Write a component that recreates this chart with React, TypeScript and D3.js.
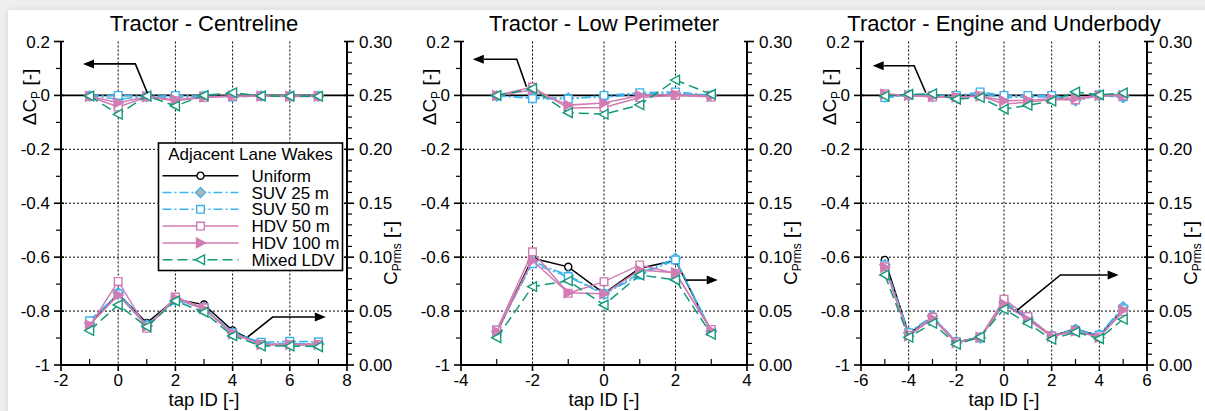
import React from "react";
import * as d3 from "d3";

// ---------- data ----------
const seriesNames = ["Uniform", "SUV 25 m", "SUV 50 m", "HDV 50 m", "HDV 100 m", "Mixed LDV"];
const legendTitle = "Adjacent Lane Wakes";
const panelTitles = ["Tractor - Centreline", "Tractor - Low Perimeter", "Tractor - Engine and Underbody"];

const centrelineTaps = [-1, 0, 1, 2, 3, 4, 5, 6, 7];
const centrelineXTicks = [-2, 0, 2, 4, 6, 8];
// Cprms rows: Uniform, SUV25, SUV50, HDV50, HDV100, Mixed
const centrelineCprms = [
  [0.038, 0.066, 0.039, 0.061, 0.056, 0.032, 0.019, 0.019, 0.019],
  [0.039, 0.067, 0.037, 0.060, 0.053, 0.030, 0.020, 0.020, 0.020],
  [0.041, 0.066, 0.037, 0.060, 0.053, 0.030, 0.021, 0.022, 0.0215],
  [0.036, 0.0775, 0.034, 0.063, 0.053, 0.029, 0.019, 0.019, 0.019],
  [0.037, 0.065, 0.036, 0.062, 0.052, 0.029, 0.019, 0.019, 0.019],
  [0.032, 0.0557, 0.0355, 0.0594, 0.049, 0.027, 0.0176, 0.0176, 0.017],
];
// dCp rows: SUV25, SUV50, HDV50, HDV100, Mixed (Uniform is the reference)
const centrelineDcp = [
  [-0.002, -0.014, -0.004, -0.008, -0.004, -0.004, -0.002, -0.003, -0.003],
  [-0.001, 0.0, -0.003, 0.0, -0.002, -0.006, -0.002, -0.002, -0.002],
  [-0.004, -0.043, -0.006, -0.02, -0.008, -0.003, -0.003, -0.004, -0.004],
  [-0.003, -0.027, -0.005, -0.016, -0.006, -0.002, -0.002, -0.003, -0.003],
  [-0.002, -0.07, -0.002, -0.039, 0.0, 0.01, -0.002, -0.003, -0.003],
];

const perimeterTaps = [-3, -2, -1, 0, 1, 2, 3];
const perimeterXTicks = [-4, -2, 0, 2, 4];
const perimeterCprms = [
  [0.030, 0.099, 0.091, 0.0665, 0.0897, 0.097, 0.031],
  [0.031, 0.096, 0.083, 0.066, 0.085, 0.099, 0.031],
  [0.0325, 0.094, 0.082, 0.0656, 0.0835, 0.0974, 0.031],
  [0.0325, 0.105, 0.0665, 0.0773, 0.0928, 0.085, 0.033],
  [0.031, 0.0968, 0.067, 0.066, 0.088, 0.0856, 0.032],
  [0.0253, 0.0727, 0.078, 0.0557, 0.0835, 0.0789, 0.0285],
];
const perimeterDcp = [
  [-0.002, -0.008, -0.01, -0.007, 0.005, 0.008, -0.002],
  [-0.001, -0.012, -0.014, 0.0, 0.01, 0.013, 0.001],
  [0.0, 0.031, -0.047, -0.045, -0.008, 0.001, -0.006],
  [0.0, 0.02, -0.036, -0.028, 0.0, 0.003, -0.003],
  [0.0, 0.025, -0.064, -0.07, -0.035, 0.057, 0.004],
];

const engineTaps = [-5, -4, -3, -2, -1, 0, 1, 2, 3, 4, 5];
const engineXTicks = [-6, -4, -2, 0, 2, 4, 6];
const engineCprms = [
  [0.0974, 0.029, 0.044, 0.021, 0.026, 0.0566, 0.043, 0.027, 0.0334, 0.027, 0.052],
  [0.093, 0.030, 0.0455, 0.0216, 0.025, 0.058, 0.044, 0.027, 0.033, 0.028, 0.0541],
  [0.0928, 0.030, 0.044, 0.0216, 0.025, 0.0587, 0.0445, 0.027, 0.032, 0.0278, 0.052],
  [0.091, 0.0275, 0.0442, 0.021, 0.0257, 0.061, 0.0448, 0.0269, 0.0315, 0.026, 0.0494],
  [0.0906, 0.0269, 0.043, 0.0205, 0.0257, 0.0565, 0.042, 0.0265, 0.0315, 0.0255, 0.051],
  [0.0835, 0.0257, 0.0387, 0.0192, 0.026, 0.0517, 0.0387, 0.0238, 0.0306, 0.0244, 0.0424],
];
const engineDcp = [
  [-0.006, 0.0, -0.004, -0.004, 0.006, -0.008, -0.006, -0.006, -0.02, 0.0, -0.008],
  [-0.008, 0.001, -0.002, 0.0, 0.013, 0.0, 0.0, 0.0, -0.012, 0.002, -0.005],
  [0.006, 0.0, -0.006, -0.008, -0.002, -0.032, -0.025, -0.015, -0.017, 0.0, -0.001],
  [0.004, 0.0, -0.004, -0.006, -0.002, -0.02, -0.018, -0.012, -0.01, 0.0, 0.0],
  [-0.002, 0.004, 0.006, -0.014, -0.008, -0.051, -0.037, -0.021, 0.013, 0.002, 0.009],
];

// annotation arrows in data units (tap, dCp); last point is the arrow tip
const centrelineArrows = [
  [[1.02, 0.009], [0.6, 0.117], [-1.23, 0.117]],
  [[4.53, -0.896], [5.4, -0.822], [7.26, -0.822]],
];
const perimeterArrows = [
  [[-2.17, 0.032], [-2.44, 0.134], [-3.67, 0.134]],
  [[2.29, -0.685], [3.18, -0.685]],
];
const engineArrows = [
  [[-3.28, 0.01], [-3.77, 0.11], [-5.51, 0.11]],
  [[0.556, -0.796], [2.37, -0.666], [4.81, -0.666]],
];

const leftTicks = [0.2, 0, -0.2, -0.4, -0.6, -0.8, -1];
const rightTicks = [0.3, 0.25, 0.2, 0.15, 0.1, 0.05, 0];

// ---------- styles ----------
const BLUE = "#3cb3ea";
const PINK = "#d17cb2";
const TEAL = "#12997a";
const seriesColors = ["#000000", BLUE, BLUE, PINK, PINK, TEAL];
const seriesDash = ["", "9,3,2,3", "9,3,2,3", "", "", "10,5"];
const seriesMarker = ["circle", "diamond", "square", "square", "triR", "triL"];
const seriesFill = ["#ffffff", "#b4b4b4", "#ffffff", "#ffffff", PINK, "#ffffff"];

const FONT = "'Liberation Sans', Arial, Helvetica, sans-serif";
const Y_TOP = 41.5;
const Y_BOT = 365;
const PANEL_W = 286;
const TICK_FS = 17;

function markerPath(type: string) {
  switch (type) {
    case "circle":
      return d3.symbol(d3.symbolCircle, 40)() as string;
    case "square":
      return "M-3.8,-3.8H3.8V3.8H-3.8Z";
    case "diamond":
      return "M0,-5L5,0L0,5L-5,0Z";
    case "triR":
      return "M5,0L-4,-4.8L-4,4.8Z";
    case "triL":
      return "M-5,0L4,-4.8L4,4.8Z";
  }
  return "";
}

function Marker({ type, x, y, color, fill }: any) {
  return (
    <path d={markerPath(type)} transform={`translate(${x},${y})`} fill={fill} stroke={color} strokeWidth={1.4} />
  );
}

function Arrow({ pts, x, y }: any) {
  const p = pts.map((d: number[]) => [x(d[0]), y(d[1])]);
  const n = p.length;
  const [ax, ay] = p[n - 2];
  const [bx, by] = p[n - 1];
  const ang = Math.atan2(by - ay, bx - ax);
  const L = 11, W = 4.5;
  const bx0 = bx - L * Math.cos(ang);
  const by0 = by - L * Math.sin(ang);
  const line = d3.line()(p.slice(0, n - 1).concat([[bx0, by0]]) as any) as string;
  const head = `M${bx},${by}L${bx0 - W * Math.sin(ang)},${by0 + W * Math.cos(ang)}L${bx0 + W * Math.sin(ang)},${by0 - W * Math.cos(ang)}Z`;
  return (
    <g>
      <path d={line} fill="none" stroke="#000" strokeWidth={1.6} />
      <path d={head} fill="#000" />
    </g>
  );
}

function Panel({ left, title, taps, xTicks, cprms, dcp, arrows, legend }: any) {
  const x = d3.scaleLinear().domain([xTicks[0], xTicks[xTicks.length - 1]]).range([left, left + PANEL_W]);
  const yL = d3.scaleLinear().domain([-1, 0.2]).range([Y_BOT, Y_TOP]);
  const yR = d3.scaleLinear().domain([0, 0.3]).range([Y_BOT, Y_TOP]);
  const right = left + PANEL_W;
  const cx = (left + right) / 2;
  const minorX = d3.range(xTicks[0] + 1, xTicks[xTicks.length - 1], 2);
  const minorL = d3.range(-9, 2, 2).map((i) => i / 10);
  const minorR = d3.range(1, 30).filter((i) => i % 5 !== 0).map((i) => i / 100);

  const lineL = d3.line<number>().x((_, i) => x(taps[i])).y((d) => yL(d));
  const lineR = d3.line<number>().x((_, i) => x(taps[i])).y((d) => yR(d));

  return (
    <g fontFamily={FONT}>
      <text x={cx} y={31} textAnchor="middle" fontSize={22}>{title}</text>
      {/* grid */}
      {xTicks.slice(1, -1).map((t: number) => (
        <line key={"gx" + t} x1={x(t)} x2={x(t)} y1={Y_TOP} y2={Y_BOT} stroke="#000" strokeWidth={1} strokeDasharray="2,2" />
      ))}
      {[-0.2, -0.4, -0.6, -0.8].map((t) => (
        <line key={"gy" + t} x1={left} x2={right} y1={yL(t)} y2={yL(t)} stroke="#000" strokeWidth={1} strokeDasharray="2,2" />
      ))}
      <line x1={left} x2={right} y1={yL(0)} y2={yL(0)} stroke="#000" strokeWidth={1.6} />

      {/* data: Cprms (right axis) */}
      {cprms.map((row: number[], s: number) => (
        <g key={"r" + s}>
          <path d={lineR(row) as string} fill="none" stroke={seriesColors[s]} strokeWidth={1.5} strokeDasharray={seriesDash[s]} />
          {row.map((v, i) => (
            <Marker key={i} type={seriesMarker[s]} x={x(taps[i])} y={yR(v)} color={seriesColors[s]} fill={seriesFill[s]} />
          ))}
        </g>
      ))}
      {/* data: dCp (left axis) */}
      {dcp.map((row: number[], k: number) => {
        const s = k + 1;
        return (
          <g key={"l" + s}>
            <path d={lineL(row) as string} fill="none" stroke={seriesColors[s]} strokeWidth={1.5} strokeDasharray={seriesDash[s]} />
            {row.map((v, i) => (
              <Marker key={i} type={seriesMarker[s]} x={x(taps[i])} y={yL(v)} color={seriesColors[s]} fill={seriesFill[s]} />
            ))}
          </g>
        );
      })}

      {/* arrows */}
      {arrows.map((a: any, i: number) => <Arrow key={"a" + i} pts={a} x={x} y={yL} />)}

      {/* left axis */}
      <line x1={left} x2={left} y1={Y_TOP} y2={Y_BOT + 1} stroke="#000" strokeWidth={2} />
      {leftTicks.map((t) => (
        <g key={"lt" + t}>
          <line x1={left - 7} x2={left + 3} y1={yL(t)} y2={yL(t)} stroke="#000" strokeWidth={1.6} />
          <text x={left - 11} y={yL(t) + 6} textAnchor="end" fontSize={TICK_FS}>{d3.format("")(t).replace("−", "-")}</text>
        </g>
      ))}
      {minorL.map((t) => (
        <line key={"lm" + t} x1={left - 5} x2={left} y1={yL(t)} y2={yL(t)} stroke="#000" strokeWidth={1.2} />
      ))}
      <text transform={`translate(${left - 25},${97}) rotate(-90)`} textAnchor="middle" fontSize={19}>
        ΔC<tspan fontSize={12} dy={4}>P</tspan><tspan dy={-4}> [-]</tspan>
      </text>

      {/* right axis */}
      <line x1={right} x2={right} y1={Y_TOP} y2={Y_BOT + 1} stroke="#000" strokeWidth={2} />
      {rightTicks.map((t) => (
        <g key={"rt" + t}>
          <line x1={right - 3} x2={right + 7} y1={yR(t)} y2={yR(t)} stroke="#000" strokeWidth={1.6} />
          <text x={right + 12} y={yR(t) + 6} textAnchor="start" fontSize={TICK_FS}>{d3.format(".2f")(t)}</text>
        </g>
      ))}
      {minorR.map((t) => (
        <line key={"rm" + t} x1={right} x2={right + 5} y1={yR(t)} y2={yR(t)} stroke="#000" strokeWidth={1.2} />
      ))}
      <text transform={`translate(${right + 50},${253}) rotate(-90)`} textAnchor="middle" fontSize={19}>
        C<tspan fontSize={12} dy={4}>Prms</tspan><tspan dy={-4}> [-]</tspan>
      </text>

      {/* bottom axis */}
      <line x1={left - 1} x2={right + 1} y1={Y_BOT} y2={Y_BOT} stroke="#000" strokeWidth={2} />
      {xTicks.map((t: number) => (
        <g key={"bt" + t}>
          <line x1={x(t)} x2={x(t)} y1={Y_BOT} y2={Y_BOT + 6} stroke="#000" strokeWidth={1.6} />
          <text x={x(t)} y={385.5} textAnchor="middle" fontSize={TICK_FS}>{String(t)}</text>
        </g>
      ))}
      {minorX.map((t: number) => (
        <line key={"bm" + t} x1={x(t)} x2={x(t)} y1={Y_BOT} y2={Y_BOT - 6} stroke="#000" strokeWidth={1.2} />
      ))}
      <text x={cx} y={406} textAnchor="middle" fontSize={18.5}>tap ID [-]</text>

      {legend && (
        <g>
          <rect x={158.5} y={143} width={184} height={127.5} fill="#fff" stroke="#000" strokeWidth={1.6} />
          <text x={250.5} y={160} textAnchor="middle" fontSize={17}>{legendTitle}</text>
          {seriesNames.map((name, s) => {
            const yy = 175.7 + s * 16.8;
            return (
              <g key={"lg" + s}>
                <line x1={162.5} x2={238.5} y1={yy} y2={yy} stroke={seriesColors[s]} strokeWidth={1.5} strokeDasharray={seriesDash[s]} />
                <Marker type={seriesMarker[s]} x={200.5} y={yy} color={seriesColors[s]} fill={seriesFill[s]} />
                <text x={251.5} y={yy + 6} fontSize={17}>{name}</text>
              </g>
            );
          })}
        </g>
      )}
    </g>
  );
}

export default function App() {
  return (
    <svg width={1205} height={411} style={{ position: "absolute", left: 0, top: 0, display: "block" }}>
      <defs>
        <filter id="sh" x="-5%" y="-5%" width="110%" height="110%">
          <feDropShadow dx="0" dy="0" stdDeviation="3" floodColor="#000" floodOpacity="0.12" />
        </filter>
      </defs>
      <rect x={0} y={0} width={1205} height={411} fill="#efefef" />
      <rect x={8} y={10} width={1210} height={420} fill="#fff" filter="url(#sh)" />
      <Panel left={61} title={panelTitles[0]} taps={centrelineTaps} xTicks={centrelineXTicks} cprms={centrelineCprms} dcp={centrelineDcp} arrows={centrelineArrows} legend />
      <Panel left={461} title={panelTitles[1]} taps={perimeterTaps} xTicks={perimeterXTicks} cprms={perimeterCprms} dcp={perimeterDcp} arrows={perimeterArrows} />
      <Panel left={861} title={panelTitles[2]} taps={engineTaps} xTicks={engineXTicks} cprms={engineCprms} dcp={engineDcp} arrows={engineArrows} />
    </svg>
  );
}
